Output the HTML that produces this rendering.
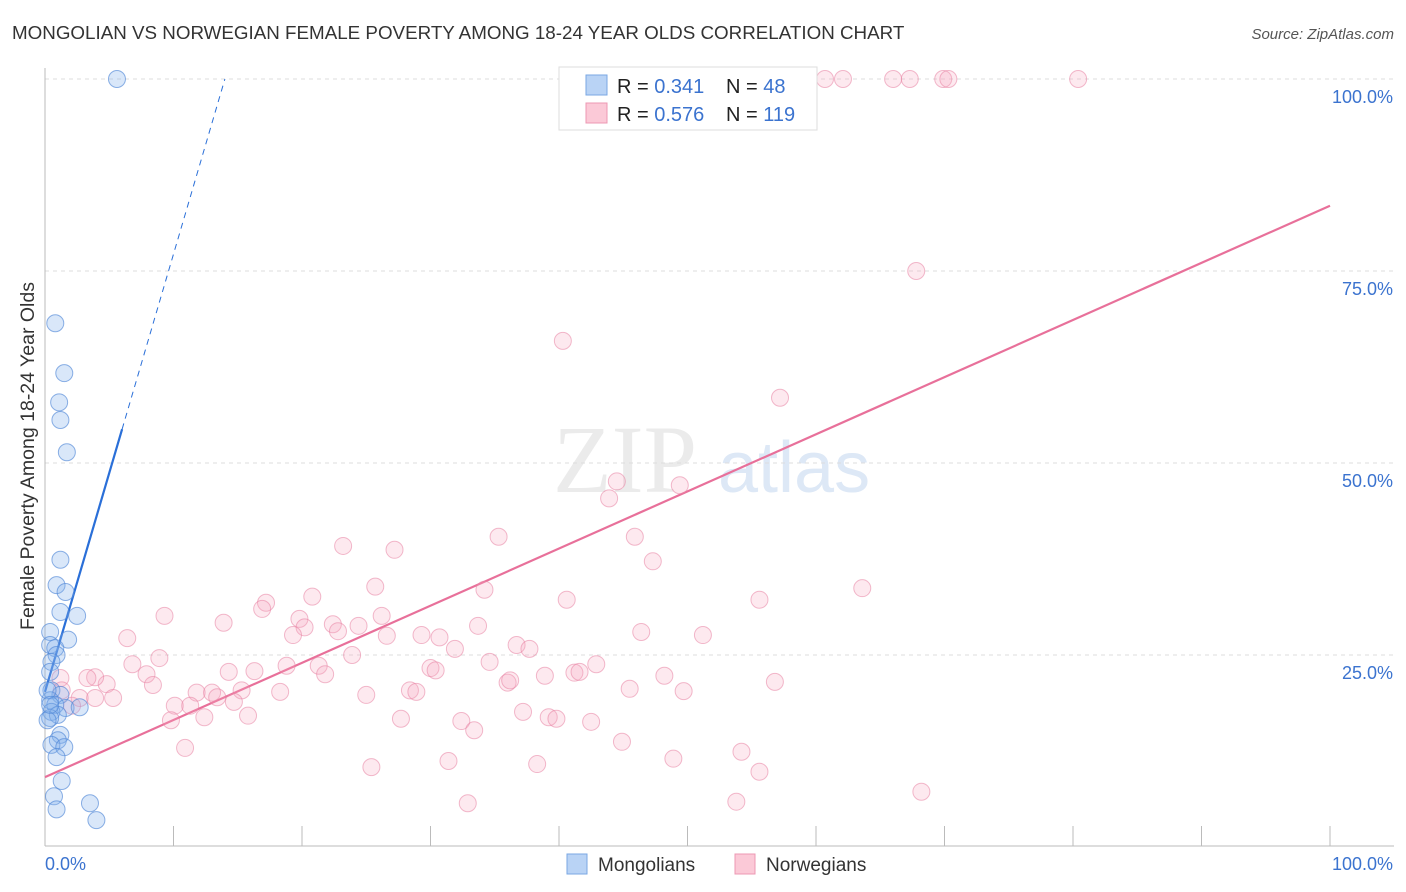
<!DOCTYPE html>
<html><head><meta charset="utf-8"><style>
body{margin:0;background:#fff;font-family:"Liberation Sans",sans-serif}
svg{display:block}
</style></head><body>
<svg id="chart" width="1406" height="892" font-family="Liberation Sans, sans-serif">
<text x="12" y="39" font-size="18.8" fill="#333">MONGOLIAN VS NORWEGIAN FEMALE POVERTY AMONG 18-24 YEAR OLDS CORRELATION CHART</text>
<text x="1394" y="39" font-size="15" fill="#555" font-style="italic" text-anchor="end">Source: ZipAtlas.com</text>
<g>
<text x="553" y="492" font-size="96" font-family="Liberation Serif, serif" fill="#ebebeb">ZIP</text>
<text x="718" y="492" font-size="72" fill="#dde8f6">atlas</text>
</g>
<g id="grid"></g>
<g id="axes"></g>
<text transform="translate(34,456) rotate(-90)" font-size="19.5" fill="#333" text-anchor="middle">Female Poverty Among 18-24 Year Olds</text>
<g id="lines"></g>
<g id="pts"></g>
<g>
<rect x="559" y="67" width="258" height="63" fill="#fff" stroke="#ddd"/>
<rect x="586" y="75" width="21" height="20" fill="#b9d3f5" stroke="#7aa7e3"/>
<rect x="586" y="103" width="21" height="20" fill="#fbc9d7" stroke="#ec98b3"/>
<text x="617" y="93" font-size="20" fill="#222">R = <tspan fill="#3b73cf">0.341</tspan></text>
<text x="726" y="93" font-size="20" fill="#222">N = <tspan fill="#3b73cf"> 48</tspan></text>
<text x="617" y="121" font-size="20" fill="#222">R = <tspan fill="#3b73cf">0.576</tspan></text>
<text x="726" y="121" font-size="20" fill="#222">N = <tspan fill="#3b73cf">119</tspan></text>
</g>
<g>
<rect x="567" y="854" width="20" height="20" fill="#b9d3f5" stroke="#7aa7e3"/>
<text x="598" y="871" font-size="19" fill="#333">Mongolians</text>
<rect x="735" y="854" width="20" height="20" fill="#fbc9d7" stroke="#ec98b3"/>
<text x="766" y="871" font-size="19" fill="#333">Norwegians</text>
</g>
</svg>
<script>
const yTicks=[25,50,75,100];
const yTickLabels=["25.0%","50.0%","75.0%","100.0%"];
const xTicks=[0,10,20,30,40,50,60,70,80,90,100];
const blueX=[5.6,0.8,1.5,1.1,1.2,1.7,1.2,0.9,1.6,1.2,2.5,1.8,0.4,0.4,0.8,0.9,0.5,0.4,0.5,1.2,0.4,0.8,1.6,2.7,0.5,1.0,0.4,1.2,1.0,0.5,1.5,0.9,1.3,0.7,0.9,3.5,4.0,0.2,0.2,0.4];
const blueY=[100,68.2,61.7,57.9,55.6,51.4,37.4,34.1,33.2,30.6,30.1,27.0,28.0,26.3,25.9,25.0,24.1,22.8,20.4,19.8,19.1,18.5,18.1,18.2,17.6,17.2,16.8,14.6,13.9,13.3,13.0,11.7,8.6,6.6,4.9,5.7,3.5,16.5,20.4,18.5];
const pinkX=[43.2,53.2,56.4,58.8,60.7,62.1,66.0,67.3,69.9,70.3,80.4,67.8,40.3,57.2,44.5,43.9,49.4,45.9,35.3,47.3,23.2,27.2,25.7,34.2,40.6,55.6,63.6,17.2,16.9,20.8,9.3,13.9,19.8,26.2,20.2,19.3,22.4,24.4,22.8,26.6,29.3,30.7,33.7,31.9,36.7,37.7,46.4,51.2,6.4,6.8,8.9,7.9,8.4,4.8,3.9,3.3,1.2,1.3,2.7,3.9,5.3,2.1,14.3,16.3,18.8,21.3,21.8,23.9,28.4,28.9,30.0,30.4,34.6,36.0,36.2,38.9,41.2,41.6,42.9,48.2,45.5,49.7,56.8,15.3,18.3,11.8,13.0,13.4,14.7,25.0,10.1,11.3,12.4,15.8,9.8,32.4,33.4,37.2,39.2,39.8,42.5,27.7,10.9,25.4,31.4,38.3,44.9,48.9,54.2,55.6,32.9,53.8,68.2];
const pinkY=[100,100,100,100,100,100,100,100,100,100,100,75.0,65.9,58.5,47.6,45.4,47.1,40.4,40.4,37.2,39.2,38.7,33.9,33.5,32.2,32.2,33.7,31.8,31.0,32.6,30.1,29.2,29.7,30.1,28.6,27.6,29.0,28.8,28.1,27.5,27.6,27.3,28.8,25.8,26.3,25.8,28.0,27.6,27.2,23.8,24.6,22.5,21.1,21.2,22.1,22.0,22.0,20.4,19.4,19.4,19.4,18.4,22.8,22.9,23.6,23.6,22.5,25.0,20.4,20.2,23.3,23.0,24.1,21.4,21.7,22.3,22.7,22.8,23.8,22.3,20.6,20.3,21.5,20.4,20.2,20.1,20.1,19.5,18.9,19.8,18.4,18.4,16.9,17.1,16.5,16.4,15.2,17.6,16.9,16.7,16.3,16.7,12.9,10.4,11.2,10.8,13.7,11.5,12.4,9.8,5.7,5.9,7.2];
const blueFit=[20.2,5.7];   // intercept, slope
const pinkFit=[9.1,0.744];
const X0=45,X1=1330,Y0=847,Y1=79;
const sx=v=>X0+(X1-X0)*v/100, sy=v=>Y0-(Y0-Y1)*v/100;
const NS="http://www.w3.org/2000/svg";
function mk(tag,attrs,parent){const e=document.createElementNS(NS,tag);for(const k in attrs)e.setAttribute(k,attrs[k]);parent.appendChild(e);return e;}
const grid=document.getElementById('grid'),axes=document.getElementById('axes'),lines=document.getElementById('lines'),pts=document.getElementById('pts');
yTicks.forEach((t,i)=>{
 const l=mk('line',{x1:X0,x2:1394,y1:sy(t),y2:sy(t),stroke:'#ddd','stroke-dasharray':'4,4'},grid);
 
 
 const tx=mk('text',{x:1393,y:sy(t)+24,'font-size':18,fill:'#3b73cf','text-anchor':'end'},axes);
 tx.textContent=yTickLabels[i];
 
 
});
const ax=mk('line',{x1:X0,x2:X0,y1:68,y2:846,stroke:'#bbb'},axes);


const bx=mk('line',{x1:X0,x2:1394,y1:846,y2:846,stroke:'#bbb'},axes);


xTicks.forEach(t=>{
 const l=mk('line',{x1:sx(t),x2:sx(t),y1:826,y2:846,stroke:'#bbb'},axes);
 
 
});
[[0,"0.0%",'start',45],[100,"100.0%",'end',1393]].forEach(([v,s,a,x])=>{
 const t=mk('text',{x:x,y:870,'font-size':18,fill:'#3b73cf','text-anchor':a},axes);
 t.textContent=s;
 
 
});
function drawPts(xs,ys,fill,stroke,name){xs.forEach((x,i)=>{
 const c=mk('circle',{cx:sx(x),cy:sy(ys[i]),r:8.5,fill:fill,stroke:stroke,'stroke-width':1},pts);
 
 
});}
drawPts(pinkX,pinkY,'rgba(246,168,192,0.25)','rgba(232,130,162,0.55)','norwegian-point');
drawPts(blueX,blueY,'rgba(130,175,235,0.3)','rgba(80,135,215,0.65)','mongolian-point');
const pl=mk('line',{x1:sx(0),y1:sy(pinkFit[0]),x2:sx(100),y2:sy(pinkFit[0]+pinkFit[1]*100),stroke:'#e8709a','stroke-width':2.2},lines);


const bEnd=6, bMax=(100-blueFit[0])/blueFit[1];
const bl=mk('line',{x1:sx(0),y1:sy(blueFit[0]),x2:sx(bEnd),y2:sy(blueFit[0]+blueFit[1]*bEnd),stroke:'#2a6fd8','stroke-width':2.2},lines);


const bd=mk('line',{x1:sx(bEnd),y1:sy(blueFit[0]+blueFit[1]*bEnd),x2:sx(bMax),y2:sy(100),stroke:'#2a6fd8','stroke-width':1,'stroke-dasharray':'6,5'},lines);


</script>
</body></html>
